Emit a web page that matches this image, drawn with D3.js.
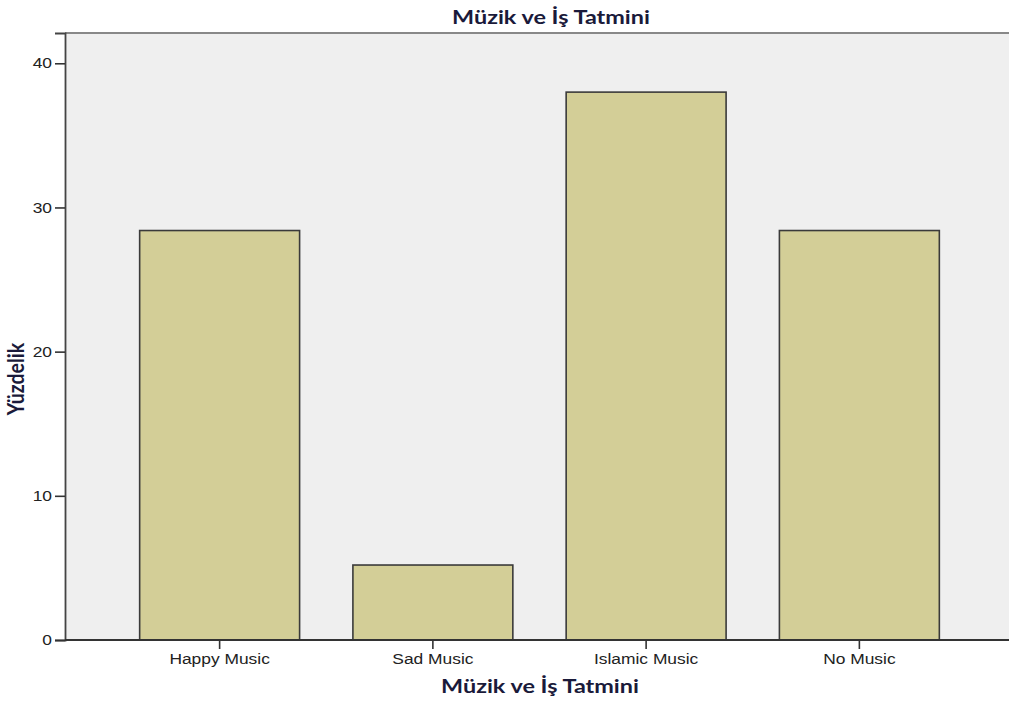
<!DOCTYPE html>
<html>
<head>
<meta charset="utf-8">
<script src="https://cdn.jsdelivr.net/npm/d3@7"></script>
<style>
  html, body { margin: 0; padding: 0; background: #ffffff; }
  svg { display: block; }
  .tick text { font-family: "Liberation Sans", Arimo, Arial, sans-serif !important; }
  .ttl { font-family: Lato, "Open Sans", sans-serif; font-weight: bold; }
</style>
</head>
<body>
<svg id="chart" width="1009" height="702"></svg>
<script>
const categories = ["Happy Music", "Sad Music", "Islamic Music", "No Music"];
const percentValues = [28.4, 5.2, 38.0, 28.4];
const yTickValues = [0, 10, 20, 30, 40];
const chartTitle = "Müzik ve İş Tatmini";
const xAxisTitle = "Müzik ve İş Tatmini";
const yAxisTitle = "Yüzdelik";

const svg = d3.select("#chart");
const plot = { left: 65, right: 1009, top: 33, bottom: 640 };

const x = d3.scaleBand()
  .domain(categories)
  .range([113, 966])
  .paddingInner(0.25)
  .paddingOuter(0.125);

const y = d3.scaleLinear()
  .domain([0, 42.1])
  .range([plot.bottom, plot.top]);

svg.append("rect")
  .attr("x", plot.left).attr("y", plot.top)
  .attr("width", plot.right - plot.left)
  .attr("height", plot.bottom - plot.top)
  .attr("fill", "#efefef");

svg.append("line")
  .attr("x1", plot.left).attr("x2", plot.right)
  .attr("y1", plot.top).attr("y2", plot.top)
  .attr("stroke", "#888888").attr("stroke-width", 2);

svg.append("g").selectAll("rect")
  .data(categories)
  .join("rect")
  .attr("x", d => x(d))
  .attr("width", x.bandwidth())
  .attr("y", (d, i) => y(percentValues[i]))
  .attr("height", (d, i) => y(0) - y(percentValues[i]))
  .attr("fill", "#d3ce97")
  .attr("stroke", "#3a3a3a")
  .attr("stroke-width", 1.6);

const SX = 1.2;

const yAxis = svg.append("g")
  .attr("transform", `translate(${plot.left},0)`)
  .call(d3.axisLeft(y).tickValues(yTickValues).tickSize(10).tickPadding(3).tickFormat(d3.format("d")));
yAxis.attr("font-family", null);
yAxis.select(".domain").attr("stroke", "#444").attr("stroke-width", 1.8);
yAxis.selectAll(".tick line").attr("stroke", "#333").attr("stroke-width", 1.6);
yAxis.selectAll(".tick text")
  .attr("font-size", 14.5)
  .attr("fill", "#222")
  .attr("x", -13 / SX)
  .attr("transform", `scale(${SX},1)`);

const xAxis = svg.append("g")
  .attr("transform", `translate(0,${plot.bottom})`)
  .call(d3.axisBottom(x).tickSize(9).tickPadding(5).tickSizeOuter(0));
xAxis.attr("font-family", null);
xAxis.select(".domain").attr("stroke", "#333").attr("stroke-width", 1.8)
  .attr("d", `M${plot.left},0H${plot.right}`);
xAxis.selectAll(".tick line").attr("stroke", "#333").attr("stroke-width", 1.6);
xAxis.selectAll(".tick text")
  .attr("font-size", 14.5)
  .attr("fill", "#222")
  .attr("transform", `scale(${SX},1)`);

svg.append("text")
  .attr("class", "ttl")
  .attr("transform", `translate(551,24) scale(${SX},1)`)
  .attr("text-anchor", "middle")
  .attr("font-size", 19.5)
  .attr("fill", "#1a1a3a")
  .text(chartTitle);

svg.append("text")
  .attr("class", "ttl")
  .attr("transform", `translate(540,693) scale(${SX},1)`)
  .attr("text-anchor", "middle")
  .attr("font-size", 19.5)
  .attr("fill", "#1a1a3a")
  .text(xAxisTitle);

svg.append("text")
  .attr("class", "ttl")
  .attr("transform", `translate(24,379) rotate(-90) scale(1,${SX})`)
  .attr("text-anchor", "middle")
  .attr("font-size", 19.5)
  .attr("fill", "#1a1a3a")
  .text(yAxisTitle);
</script>
</body>
</html>
